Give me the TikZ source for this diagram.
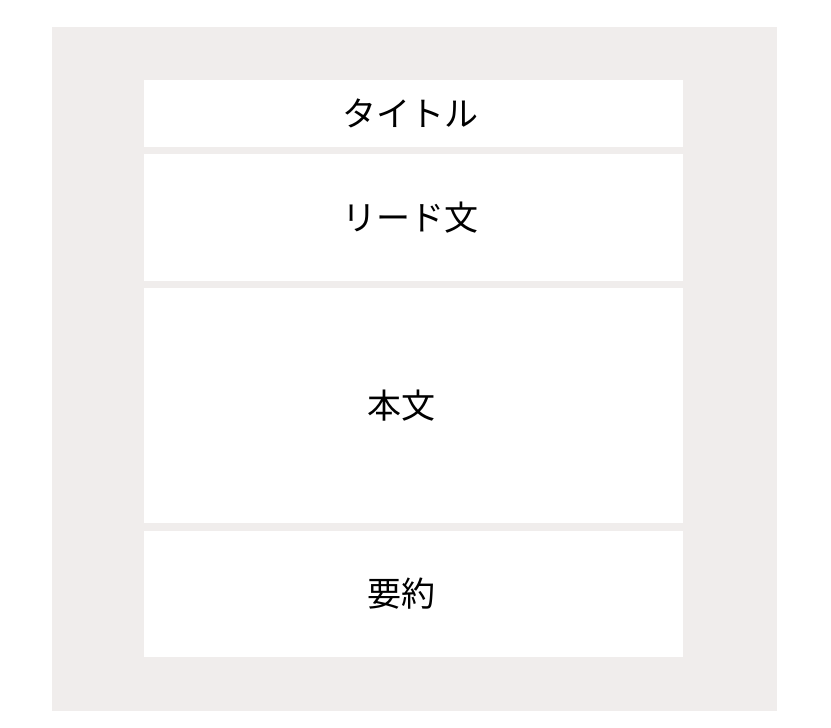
\documentclass[tikz,border=0pt]{standalone}
\usepackage{fontspec}
\newfontfamily\jpfont{Noto Sans CJK JP}
\definecolor{paper}{HTML}{F0EDEC}
\tikzset{sect/.style={fill=white, minimum width=539pt, inner sep=0pt},
    secttext/.style={inner sep=0pt, font=\jpfont\fontsize{34}{40}\selectfont}}

\begin{document}
\begin{tikzpicture}[x=1pt,y=-1pt]
\useasboundingbox (0,0) rectangle (831,728);
\fill[paper] (52,27) rectangle (777,711);
% sections of the page, top to bottom
\foreach \name/\txt/\tx/\y/\h in {title/タイトル/410.5/113.5/67, lead/リード文/410/217.5/127,
                                  body/本文/401/405.5/235, summary/要約/401/594/126}
{
	\node[sect, minimum height=\h pt] (\name) at (413.5,\y) {};
	\node[secttext] (\name-text) at (\tx,\y) {\txt};
}
\end{tikzpicture}
\end{document}
